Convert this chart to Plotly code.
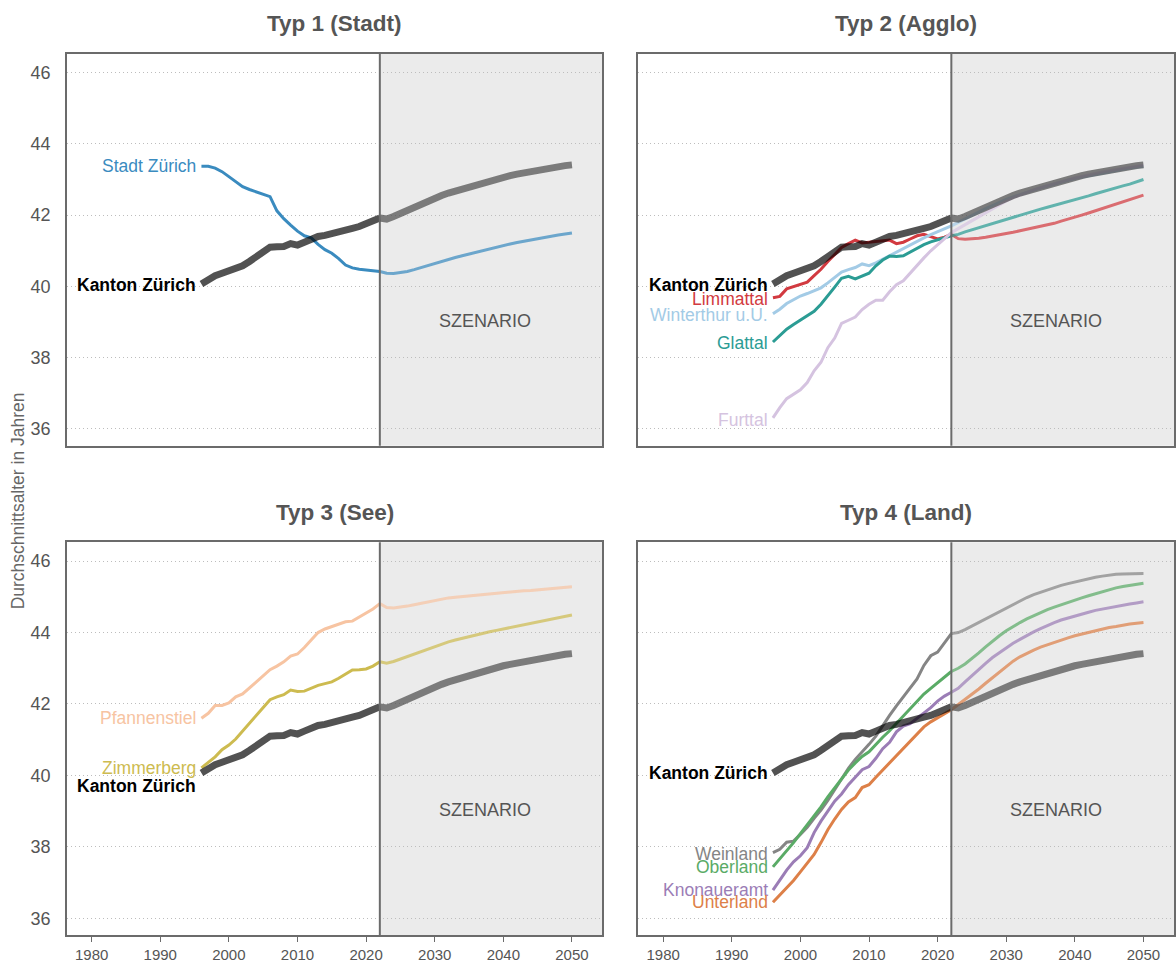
import plotly.graph_objects as go

# Years: observed values up to 2022, scenario from 2022 to 2050
years_hist = list(range(1996, 2023))
years_scen = list(range(2022, 2051))

# Durchschnittsalter Kanton Zürich
kanton_hist = [40.07, 40.2, 40.3, 40.37, 40.43, 40.5, 40.58, 40.7, 40.85, 40.97, 41.1, 41.11, 41.12, 41.2,
               41.16, 41.24, 41.34, 41.4, 41.43, 41.47, 41.52, 41.58, 41.63, 41.68, 41.75, 41.83, 41.92]
kanton_scen = [41.92, 41.89, 41.96, 42.05, 42.14, 42.23, 42.32, 42.4, 42.48, 42.55, 42.62, 42.68, 42.74, 42.8,
               42.86, 42.92, 42.97, 43.02, 43.07, 43.11, 43.15, 43.19, 43.23, 43.27, 43.3, 43.33, 43.36, 43.39, 43.41]

# Typ 1 (Stadt)
stadt_hist = [43.37, 43.37, 43.32, 43.22, 43.08, 42.93, 42.8, 42.72, 42.66, 42.58, 42.52, 42.12, 41.9, 41.72,
              41.55, 41.42, 41.36, 41.18, 41.03, 40.93, 40.78, 40.6, 40.52, 40.48, 40.46, 40.45, 40.42]
stadt_scen = [40.42, 40.37, 40.36, 40.38, 40.42, 40.47, 40.53, 40.59, 40.65, 40.71, 40.76, 40.81, 40.86, 40.91,
              40.95, 41.0, 41.05, 41.1, 41.15, 41.19, 41.23, 41.27, 41.31, 41.35, 41.38, 41.41, 41.44, 41.47, 41.5]

# Typ 2 (Agglo)
limmattal_hist = [39.68, 39.72, 39.93, 40.0, 40.07, 40.12, 40.3, 40.48, 40.7, 40.9, 41.09, 41.2, 41.3, 41.22,
                  41.24, 41.28, 41.3, 41.3, 41.2, 41.24, 41.33, 41.42, 41.46, 41.4, 41.33, 41.38, 41.46]
limmattal_scen = [41.46, 41.34, 41.32, 41.33, 41.35, 41.38, 41.41, 41.44, 41.48, 41.52, 41.56, 41.6, 41.64, 41.68,
                  41.72, 41.77, 41.83, 41.88, 41.94, 42.0, 42.06, 42.12, 42.18, 42.24, 42.3, 42.36, 42.42, 42.49, 42.56]
winterthur_hist = [39.23, 39.36, 39.52, 39.63, 39.73, 39.8, 39.87, 39.96, 40.1, 40.26, 40.4, 40.47, 40.53, 40.63,
                   40.58, 40.66, 40.76, 40.88, 40.98, 41.08, 41.17, 41.26, 41.36, 41.45, 41.54, 41.62, 41.7]
winterthur_scen = [41.7, 41.8, 41.9, 42.0, 42.09, 42.18, 42.27, 42.36, 42.44, 42.51, 42.58, 42.64, 42.7, 42.76,
                   42.82, 42.88, 42.93, 42.98, 43.03, 43.07, 43.11, 43.15, 43.19, 43.23, 43.26, 43.29, 43.32, 43.35, 43.37]
glattal_hist = [38.44, 38.62, 38.8, 38.93, 39.05, 39.17, 39.3, 39.5, 39.73, 39.98, 40.23, 40.28, 40.21, 40.28,
                40.37, 40.58, 40.74, 40.85, 40.84, 40.86, 40.97, 41.07, 41.17, 41.25, 41.3, 41.37, 41.42]
glattal_scen = [41.42, 41.46, 41.53, 41.59, 41.65, 41.71, 41.77, 41.83, 41.89, 41.95, 42.01, 42.07, 42.12, 42.17,
                42.22, 42.27, 42.32, 42.37, 42.42, 42.48, 42.54, 42.6, 42.66, 42.72, 42.77, 42.82, 42.87, 42.93, 43.0]
furttal_hist = [36.31, 36.6, 36.85, 36.97, 37.1, 37.3, 37.63, 37.87, 38.28, 38.55, 38.96, 39.05, 39.14, 39.35,
                39.5, 39.61, 39.61, 39.85, 40.05, 40.16, 40.38, 40.6, 40.8, 41.0, 41.17, 41.33, 41.51]
furttal_scen = [41.51, 41.62, 41.74, 41.86, 41.97, 42.08, 42.19, 42.3, 42.4, 42.49, 42.57, 42.64, 42.71, 42.77,
                42.83, 42.89, 42.94, 42.99, 43.04, 43.09, 43.13, 43.17, 43.21, 43.25, 43.28, 43.31, 43.34, 43.37, 43.4]

# Typ 3 (See)
pfannenstiel_hist = [41.6, 41.74, 41.96, 41.96, 42.03, 42.2, 42.28, 42.45, 42.64, 42.81, 42.96, 43.06, 43.18, 43.34,
                     43.4, 43.58, 43.8, 44.0, 44.1, 44.16, 44.22, 44.3, 44.32, 44.43, 44.55, 44.66, 44.81]
pfannenstiel_scen = [44.81, 44.7, 44.69, 44.71, 44.74, 44.78, 44.82, 44.86, 44.9, 44.94, 44.97, 44.99, 45.01, 45.02,
                     45.04, 45.05, 45.07, 45.09, 45.11, 45.13, 45.15, 45.17, 45.18, 45.2, 45.22, 45.23, 45.25, 45.27, 45.28]
zimmerberg_hist = [40.21, 40.36, 40.52, 40.72, 40.85, 41.02, 41.24, 41.47, 41.7, 41.92, 42.12, 42.2, 42.26, 42.39,
                   42.35, 42.36, 42.44, 42.52, 42.57, 42.62, 42.72, 42.83, 42.95, 42.96, 42.98, 43.06, 43.18]
zimmerberg_scen = [43.18, 43.14, 43.19, 43.26, 43.33, 43.4, 43.47, 43.55, 43.62, 43.68, 43.74, 43.79, 43.84, 43.88,
                   43.93, 43.97, 44.02, 44.06, 44.1, 44.15, 44.19, 44.23, 44.27, 44.3, 44.34, 44.38, 44.42, 44.46, 44.49]

# Typ 4 (Land)
weinland_hist = [37.84, 37.93, 38.13, 38.16, 38.35, 38.55, 38.8, 39.03, 39.3, 39.6, 39.92, 40.2, 40.45, 40.65,
                 40.87, 41.1, 41.4, 41.68, 41.95, 42.2, 42.46, 42.7, 43.08, 43.35, 43.45, 43.7, 43.97]
weinland_scen = [43.97, 44.0, 44.08, 44.18, 44.28, 44.38, 44.48, 44.59, 44.7, 44.8, 44.89, 44.98, 45.06, 45.13,
                 45.2, 45.26, 45.32, 45.37, 45.42, 45.47, 45.51, 45.55, 45.58, 45.61, 45.63, 45.64, 45.65, 45.65, 45.65]
oberland_hist = [37.44, 37.66, 37.88, 38.12, 38.37, 38.61, 38.85, 39.12, 39.4, 39.66, 39.92, 40.15, 40.35, 40.53,
                 40.66, 40.87, 41.07, 41.25, 41.46, 41.67, 41.88, 42.08, 42.28, 42.44, 42.6, 42.76, 42.91]
oberland_scen = [42.91, 43.0, 43.12, 43.27, 43.43, 43.6, 43.76, 43.91, 44.05, 44.17, 44.28, 44.38, 44.47, 44.56,
                 44.64, 44.71, 44.78, 44.85, 44.91, 44.97, 45.03, 45.09, 45.15, 45.2, 45.25, 45.29, 45.32, 45.35, 45.38]
knonaueramt_hist = [36.79, 37.08, 37.35, 37.58, 37.75, 37.98, 38.4, 38.72, 39.0, 39.28, 39.48, 39.74, 39.95, 40.16,
                    40.25, 40.48, 40.75, 40.93, 41.22, 41.38, 41.45, 41.6, 41.76, 41.9, 42.08, 42.22, 42.33]
knonaueramt_scen = [42.33, 42.44, 42.62, 42.8, 42.97, 43.14, 43.3, 43.44, 43.57, 43.7, 43.81, 43.92, 44.02, 44.11,
                    44.2, 44.28, 44.35, 44.41, 44.47, 44.52, 44.57, 44.62, 44.66, 44.7, 44.74, 44.77, 44.8, 44.83, 44.86]
unterland_hist = [36.45, 36.65, 36.86, 37.06, 37.3, 37.55, 37.79, 38.12, 38.48, 38.78, 39.05, 39.26, 39.38, 39.66,
                  39.74, 39.95, 40.15, 40.35, 40.55, 40.78, 40.98, 41.18, 41.36, 41.5, 41.62, 41.73, 41.84]
unterland_scen = [41.84, 41.98, 42.12, 42.26, 42.42, 42.58, 42.74, 42.9, 43.06, 43.2, 43.32, 43.42, 43.51, 43.59,
                  43.66, 43.73, 43.79, 43.85, 43.91, 43.96, 44.01, 44.05, 44.1, 44.14, 44.17, 44.21, 44.24, 44.26, 44.28]

y_ticks = [36, 38, 40, 42, 44, 46]
x_ticks = [1980, 1990, 2000, 2010, 2020, 2030, 2040, 2050]

FONT = "Liberation Sans, Arial, sans-serif"
TXT = "#555555"
FRAME = "#6b6b6b"
X_RANGE = [1976.4, 2054.45]
Y_RANGE = [35.53, 46.53]
SCEN_START = 2022


def rgba(hex_color, a):
    h = hex_color.lstrip("#")
    r, g, b = int(h[0:2], 16), int(h[2:4], 16), int(h[4:6], 16)
    return f"rgba({r},{g},{b},{a})"


# (title, [(name, hist, scen, colour, label y)], kanton label y, x domain, y domain)
panels = [
    ("Typ 1 (Stadt)",
     [("Stadt Zürich", stadt_hist, stadt_scen, "#3a8bbf", 43.37)],
     40.05, [67 / 1176, 603 / 1176], [1 - 448 / 963, 1 - 54 / 963]),
    ("Typ 2 (Agglo)",
     [("Limmattal", limmattal_hist, limmattal_scen, "#d23a40", 39.66),
      ("Winterthur u.U.", winterthur_hist, winterthur_scen, "#a3cbe6", 39.2),
      ("Glattal", glattal_hist, glattal_scen, "#2b9c94", 38.4),
      ("Furttal", furttal_hist, furttal_scen, "#d5c3e0", 36.25)],
     40.05, [639 / 1176, 1175 / 1176], [1 - 448 / 963, 1 - 54 / 963]),
    ("Typ 3 (See)",
     [("Pfannenstiel", pfannenstiel_hist, pfannenstiel_scen, "#f7c4a2", 41.6),
      ("Zimmerberg", zimmerberg_hist, zimmerberg_scen, "#cdbb50", 40.2)],
     39.7, [67 / 1176, 603 / 1176], [1 - 940 / 963, 1 - 545 / 963]),
    ("Typ 4 (Land)",
     [("Weinland", weinland_hist, weinland_scen, "#858585", 37.8),
      ("Oberland", oberland_hist, oberland_scen, "#5aab66", 37.45),
      ("Knonaueramt", knonaueramt_hist, knonaueramt_scen, "#9b7db6", 36.8),
      ("Unterland", unterland_hist, unterland_scen, "#dd8048", 36.45)],
     40.07, [639 / 1176, 1175 / 1176], [1 - 940 / 963, 1 - 545 / 963]),
]

fig = go.Figure()
layout = dict(
    width=1176, height=963,
    margin=dict(l=0, r=0, t=0, b=0),
    paper_bgcolor="white", plot_bgcolor="white",
    showlegend=False,
    font=dict(family=FONT, color=TXT),
)
shapes, annotations = [], []

for i, (title, series, kanton_label_y, xdom, ydom) in enumerate(panels):
    n = i + 1
    xa, ya = f"x{n}" if n > 1 else "x", f"y{n}" if n > 1 else "y"
    xkey, ykey = f"xaxis{n}" if n > 1 else "xaxis", f"yaxis{n}" if n > 1 else "yaxis"
    bottom = i >= 2
    left = i % 2 == 0

    layout[xkey] = dict(
        domain=xdom, anchor=ya, range=X_RANGE, tickvals=x_ticks,
        showticklabels=bottom, ticks="outside" if bottom else "", ticklen=5, tickwidth=1.2,
        tickcolor=FRAME, showgrid=False, zeroline=False,
        showline=True, mirror=True, linecolor=FRAME, linewidth=1.6,
        tickfont=dict(size=15, color=TXT, family=FONT),
    )
    layout[ykey] = dict(
        domain=ydom, anchor=xa, range=Y_RANGE, tickvals=y_ticks,
        showticklabels=left, ticks="", ticklabelstandoff=11,
        showgrid=True, gridcolor="#bdbdbd", griddash="1px,3px", gridwidth=1,
        zeroline=False, showline=True, mirror=True, linecolor=FRAME, linewidth=1.6,
        tickfont=dict(size=18, color=TXT, family=FONT),
    )

    # scenario area and divider
    shapes.append(dict(type="rect", xref=xa, yref=f"{ya} domain", x0=SCEN_START, x1=X_RANGE[1],
                       y0=0, y1=1, fillcolor="#ebebeb", line=dict(width=0), layer="below"))
    shapes.append(dict(type="line", xref=xa, yref=f"{ya} domain", x0=SCEN_START, x1=SCEN_START,
                       y0=0, y1=1, line=dict(color="#6b6b6b", width=2), layer="above"))

    for name, hist, scen, color, label_y in series:
        fig.add_trace(go.Scatter(x=years_hist, y=hist, mode="lines", xaxis=xa, yaxis=ya,
                                 line=dict(color=color, width=3), hoverinfo="skip"))
        fig.add_trace(go.Scatter(x=years_scen, y=scen, mode="lines", xaxis=xa, yaxis=ya,
                                 line=dict(color=rgba(color, 0.72), width=3), hoverinfo="skip"))
        annotations.append(dict(x=1995.5, y=label_y, xref=xa, yref=ya, text=name, showarrow=False,
                                xanchor="right", yanchor="middle",
                                font=dict(size=17.5, color=color, family=FONT)))

    fig.add_trace(go.Scatter(x=years_hist, y=kanton_hist, mode="lines", xaxis=xa, yaxis=ya,
                             line=dict(color="rgba(0,0,0,0.68)", width=7), hoverinfo="skip"))
    fig.add_trace(go.Scatter(x=years_scen, y=kanton_scen, mode="lines", xaxis=xa, yaxis=ya,
                             line=dict(color="rgba(70,70,70,0.68)", width=7), hoverinfo="skip"))
    annotations.append(dict(x=1995.5, y=kanton_label_y, xref=xa, yref=ya, text="<b>Kanton Zürich</b>",
                            showarrow=False, xanchor="right", yanchor="middle",
                            font=dict(size=17.5, color="#000000", family=FONT)))

    annotations.append(dict(x=2037.3, y=39.02, xref=xa, yref=ya, text="SZENARIO", showarrow=False,
                            xanchor="center", yanchor="middle",
                            font=dict(size=18, color=TXT, family=FONT)))

    annotations.append(dict(x=(xdom[0] + xdom[1]) / 2, y=ydom[1] + 30 / 963, xref="paper", yref="paper",
                            text=f"<b>{title}</b>", showarrow=False, xanchor="center", yanchor="middle",
                            font=dict(size=22.5, color=TXT, family=FONT)))

annotations.append(dict(x=18 / 1176, y=1 - 503 / 963, xref="paper", yref="paper",
                        text="Durchschnittsalter in Jahren", textangle=-90, showarrow=False,
                        xanchor="center", yanchor="middle",
                        font=dict(size=17.5, color="#666666", family=FONT)))

layout["shapes"] = shapes
layout["annotations"] = annotations
fig.update_layout(**layout)

fig.write_html("out.html")
